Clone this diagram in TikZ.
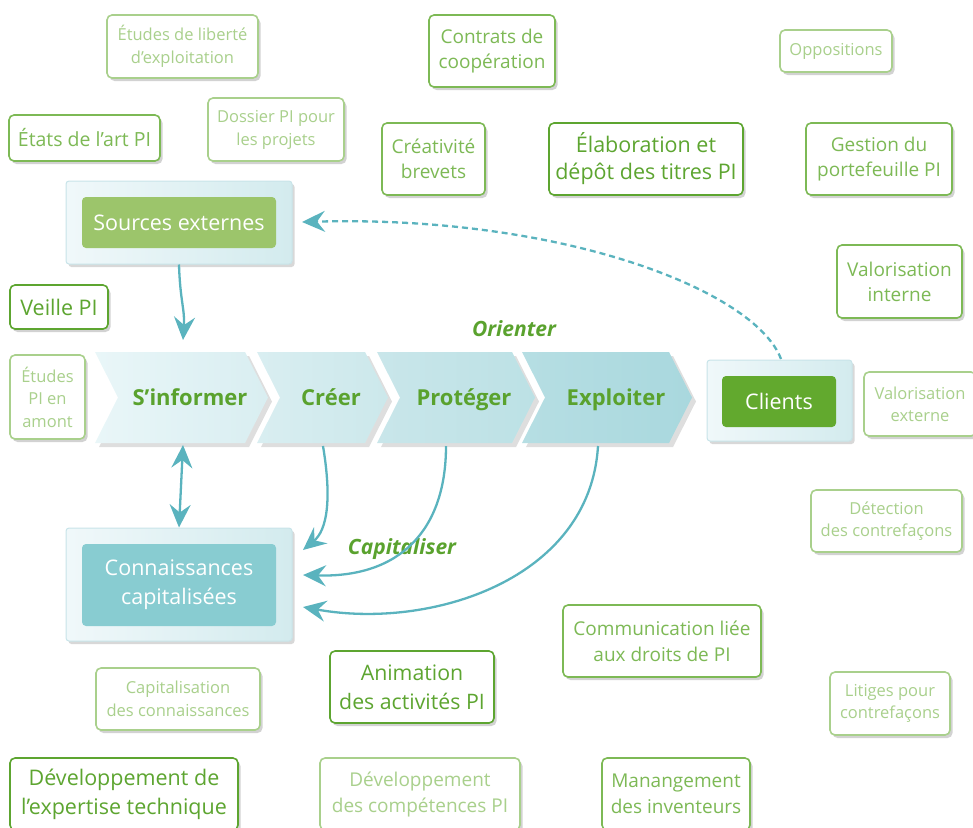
\documentclass[tikz,border=0pt]{standalone}
\usepackage{fontspec}
\setmainfont{Open Sans}
\usetikzlibrary{shadows,arrows.meta}
\definecolor{gDark}{HTML}{5DA530}
\definecolor{gMed}{HTML}{7DB955}
\definecolor{gLight}{HTML}{A9D08C}
\definecolor{gText}{HTML}{5AA22E}
\definecolor{teal}{HTML}{5AB3BE}
\definecolor{srcFill}{HTML}{9CC56B}
\definecolor{ckFill}{HTML}{88CCD1}
\definecolor{cliFill}{HTML}{62A92E}
\definecolor{panelA}{HTML}{F0F8FA}
\definecolor{panelB}{HTML}{D3EBEE}
\definecolor{panelLine}{HTML}{C8E4E9}
\definecolor{chA}{HTML}{E9F6F8}
\definecolor{chB}{HTML}{D9EEF1}
\definecolor{chC}{HTML}{CCE8EB}
\definecolor{chD}{HTML}{C9E6EA}
\definecolor{chE}{HTML}{BCE1E5}
\definecolor{chF}{HTML}{B6DEE3}
\definecolor{chG}{HTML}{A9D8DE}
\newcommand\drawchevshadow[2]{%
  \fill[black,opacity=0.13] (#1+4,356) -- (#2-23+4,356) -- (#2+4,401.5) -- (#2-23+4,447) -- (#1+4,447) -- (#1+23+4,401.5) -- cycle;}
\newcommand\drawchev[4]{%
  \shade[left color=#3,right color=#4] (#1,352) -- (#2-23,352) -- (#2,397.5) -- (#2-23,443) -- (#1,443) -- (#1+23,397.5) -- cycle;}
\begin{document}
\begin{tikzpicture}[x=1pt,y=-1pt,
  boxbase/.style={draw, fill=white, line width=1.6pt, rounded corners=5pt, align=center, inner sep=0pt,
    drop shadow={shadow xshift=2.5pt, shadow yshift=-3pt, opacity=0.25, fill=black!70}},
  darkbox/.style={boxbase, draw=gDark, text=gDark},
  medbox/.style={boxbase, draw=gMed, text=gMed},
  lightbox/.style={boxbase, draw=gLight, text=gLight},
  fs/.style 2 args={font=\fontsize{#1}{#2}\selectfont},
  panel/.style={draw=panelLine, line width=1pt, rounded corners=3pt, left color=panelA, right color=panelB,
    drop shadow={shadow xshift=2.5pt, shadow yshift=-3pt, opacity=0.22, fill=black!70}, inner sep=0pt},
  inner/.style={rounded corners=4pt, text=white, align=center, inner sep=0pt, font=\fontsize{21.5}{29}\selectfont},
  chevtxt/.style={text=gText, anchor=base, font=\fontsize{22}{26}\selectfont\bfseries},
  lbl/.style={text=gText, anchor=base, font=\fontsize{21}{25}\selectfont\bfseries\itshape},
  arr/.style={draw=teal, line width=2.3pt, -{Stealth[length=23pt,width=21pt,inset=8pt]}},
  arr2/.style={draw=teal, line width=2.3pt, {Stealth[length=23pt,width=21pt,inset=8pt]}-{Stealth[length=23pt,width=21pt,inset=8pt]}},
]
\useasboundingbox (0,0) rectangle (973,827);

% ---- boxes ----
\node[lightbox, fs={16.5}{23}, minimum width=151, minimum height=63] (etudlib) at (182.5,46.5) {Études de liberté\\d’exploitation};
\node[medbox, fs={19.5}{24}, minimum width=151, minimum height=46] (etatart) at (84.5,138) {États de l’art PI};
\node[lightbox, fs={16.5}{23}, minimum width=136, minimum height=63] (dossier) at (276,129.5) {Dossier PI pour\\les projets};
\node[medbox, fs={19}{25}, minimum width=126, minimum height=72] (contrats) at (492,51) {Contrats de\\coopération};
\node[medbox, fs={19}{25}, minimum width=103, minimum height=72] (creativ) at (433.5,159) {Créativité\\brevets};
\node[darkbox, fs={21.5}{27}, minimum width=194, minimum height=72] (elab) at (646,159) {Élaboration et\\dépôt des titres PI};
\node[lightbox, fs={16.5}{20}, minimum width=112, minimum height=42] (opp) at (836,51) {Oppositions};
\node[medbox, fs={19}{25}, minimum width=146, minimum height=72] (gestion) at (879,159) {Gestion du\\portefeuille PI};
\node[medbox, fs={19}{25}, minimum width=125, minimum height=73] (valint) at (899.5,281.5) {Valorisation\\interne};
\node[darkbox, fs={21.5}{24}, minimum width=98, minimum height=44] (veille) at (59,307) {Veille PI};
\node[lightbox, fs={16.5}{22.5}, minimum width=75, minimum height=84] (etudamont) at (47.5,397) {Études\\PI en\\amont};
\node[lightbox, fs={16.5}{22}, minimum width=112, minimum height=64] (valext) at (920,404) {Valorisation\\externe};
\node[lightbox, fs={16.5}{22}, minimum width=151, minimum height=62] (detect) at (886.5,521) {Détection\\des contrefaçons};
\node[medbox, fs={19}{26}, minimum width=198, minimum height=72] (commu) at (662,641) {Communication liée\\aux droits de PI};
\node[lightbox, fs={16.5}{23}, minimum width=164, minimum height=62] (capit) at (178,699) {Capitalisation\\des connaissances};
\node[darkbox, fs={21.3}{29}, minimum width=164, minimum height=72] (anim) at (412,687) {Animation\\des activités PI};
\node[lightbox, fs={16.5}{22}, minimum width=120, minimum height=63] (litig) at (890,703.5) {Litiges pour\\contrefaçons};
\node[darkbox, fs={21.5}{29}, minimum width=228, minimum height=72] (devexp) at (124,794) {Développement de\\l’expertise technique};
\node[lightbox, fs={19}{26}, minimum width=200, minimum height=72] (devcomp) at (420,794) {Développement\\des compétences PI};
\node[medbox, fs={19}{26}, minimum width=148, minimum height=72] (manang) at (676,794) {Manangement\\des inventeurs};

% ---- panels ----
\node[panel, minimum width=226, minimum height=83] (src) at (179,222.5) {};
\node[inner, fill=srcFill, minimum width=194, minimum height=51] (srcin) at (179,222.5) {Sources externes};
\node[panel, minimum width=226, minimum height=113] (ck) at (179,584.5) {};
\node[inner, fill=ckFill, minimum width=194, minimum height=82] (ckin) at (179,585) {Connaissances\\capitalisées};
\node[panel, minimum width=145, minimum height=81] (cli) at (779.5,400.5) {};
\node[inner, fill=cliFill, minimum width=114, minimum height=51] (cliin) at (779,401.5) {Clients};

% ---- chevrons ----
\drawchevshadow{95}{268}
\drawchevshadow{257}{388}
\drawchevshadow{377}{535}
\drawchevshadow{522}{692}
\drawchev{95}{268}{chA}{chB}
\drawchev{257}{388}{chB}{chC}
\drawchev{377}{535}{chD}{chE}
\drawchev{522}{692}{chF}{chG}
\node[chevtxt] (inf) at (190,405) {S’informer};
\node[chevtxt] (cre) at (331,405) {Créer};
\node[chevtxt] (pro) at (464,405) {Protéger};
\node[chevtxt] (expl) at (616,405) {Exploiter};

\node[lbl] (orienter) at (514,336) {Orienter};
\node[lbl] (capitaliser) at (402,554) {Capitaliser};

% ---- connector end points ----
\coordinate (infN) at (183,340);
\coordinate (infS) at (183,445);
\coordinate (creS) at (323,446);
\coordinate (proS) at (446,446);
\coordinate (expS) at (598,446);
\coordinate (ckE1) at (303,550);
\coordinate (ckE2) at (303,575);
\coordinate (ckE3) at (303,607);
\coordinate (srcE) at (302,222);
\coordinate (cliN) at (781,359);

% ---- connectors ----
\draw[arr] (src.south) .. controls (180,300) and (185,310) .. (infN);
\draw[arr2] (infS) -- (ck.north);
\draw[arr] (creS) .. controls (332,500) and (327,530) .. (ckE1);
\draw[arr] (proS) .. controls (446,530) and (400,578) .. (ckE2);
\draw[arr] (expS) .. controls (590,580) and (430,630) .. (ckE3);
\draw[arr, dash pattern=on 6pt off 4pt] (cliN) .. controls (755,290) and (560,215) .. (srcE);
\end{tikzpicture}
\end{document}
